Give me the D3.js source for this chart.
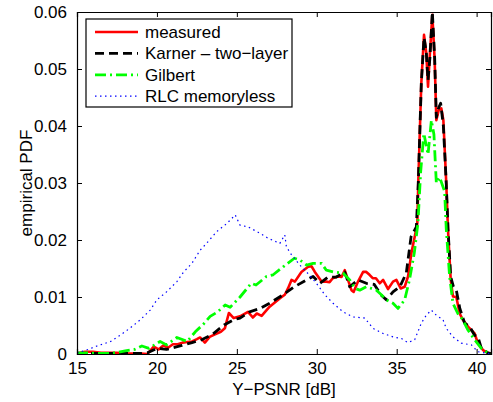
<!DOCTYPE html>
<html>
<head>
<meta charset="utf-8">
<script src="https://cdn.jsdelivr.net/npm/d3@7"></script>
<style>
  body { margin: 0; background: #fff; }
  svg { font-family: "Liberation Sans", Arial, sans-serif; }
</style>
</head>
<body>
<div id="chart"></div>
<script>
// empirical PDF of Y-PSNR, values as [dB, pdf]
const measured = [[15,0.0001],[15.5,0.0004],[16,0.0004],[16.5,0.0002],[17,0.0002],[17.5,0.0002],[18,0.0001],[18.5,0.0001],[19,0.0001],[19.4,0],[19.8,0.0013],[20.1,0.0008],[20.4,0.0015],[20.7,0.0011],[21.0,0.0017],[21.3,0.0017],[21.6,0.0020],[21.9,0.0021],[22.2,0.0022],[22.5,0.0026],[22.7,0.0029],[23.0,0.0020],[23.3,0.0030],[23.6,0.0034],[24.0,0.0039],[24.25,0.0045],[24.5,0.0072],[24.8,0.0063],[25.2,0.0066],[25.7,0.0074],[26.0,0.0064],[26.25,0.0071],[26.55,0.0067],[27.05,0.0083],[27.7,0.0098],[28.0,0.0104],[28.2,0.0115],[28.42,0.0130],[28.63,0.0127],[29.04,0.0144],[29.46,0.0153],[29.67,0.0154],[29.88,0.0144],[30.08,0.0136],[30.3,0.0127],[30.6,0.0127],[30.8,0.0126],[31.0,0.0133],[31.3,0.0136],[31.55,0.0135],[31.75,0.0147],[32.17,0.0112],[32.31,0.0109],[32.58,0.0127],[32.9,0.0144],[33.1,0.0144],[33.3,0.0139],[33.5,0.0133],[33.7,0.0133],[33.94,0.0124],[34.15,0.0130],[34.46,0.0114],[34.77,0.0127],[34.98,0.0130],[35.25,0.0115],[35.5,0.0118],[35.71,0.0136],[35.92,0.0177],[36.13,0.0206],[36.29,0.0229],[36.35,0.0300],[36.54,0.0475],[36.71,0.0560],[36.85,0.0528],[36.96,0.0469],[37.08,0.0528],[37.23,0.0595],[37.375,0.0516],[37.48,0.0410],[37.63,0.0428],[37.79,0.0431],[37.92,0.0410],[38.1,0.0300],[38.21,0.0218],[38.38,0.0130],[38.52,0.0101],[38.73,0.0100],[38.94,0.0071],[39.14,0.0060],[39.46,0.0048],[39.875,0.0036],[40.08,0.0019],[40.4,0.0007],[40.7,0.0002],[41,0]];

const karner = [[15,0.0001],[16,0.0001],[17,0.0001],[18,0.0001],[19,0.0001],[19.4,0.0002],[20,0.0010],[20.6,0.0008],[21.56,0.0015],[22.2,0.0020],[22.8,0.0025],[23.5,0.0035],[24.2,0.0051],[24.8,0.0060],[25.2,0.0063],[25.8,0.0074],[26.45,0.0080],[27.05,0.0089],[27.9,0.0104],[28.6,0.0118],[29.36,0.0130],[29.77,0.0136],[30.2,0.0124],[30.7,0.0135],[31.23,0.0135],[31.75,0.0144],[32.06,0.0118],[32.58,0.0130],[33.1,0.0124],[33.6,0.0122],[34.04,0.0103],[34.36,0.0095],[34.77,0.0109],[35.2,0.0118],[35.6,0.0142],[35.9,0.0206],[36.23,0.0223],[36.35,0.0300],[36.54,0.0475],[36.71,0.0555],[36.85,0.0530],[36.96,0.0480],[37.08,0.0520],[37.23,0.0600],[37.375,0.0520],[37.48,0.0415],[37.6,0.0430],[37.75,0.0440],[37.92,0.0400],[38.1,0.0300],[38.21,0.0220],[38.38,0.0135],[38.55,0.0118],[38.73,0.0112],[38.95,0.0080],[39.25,0.0054],[39.56,0.0048],[39.875,0.0033],[40.08,0.0030],[40.3,0.0010],[40.7,0.0002],[41,0]];

const gilbert = [[15,0.0002],[15.6,0.0002],[16.5,0.0001],[17,0.0001],[17.6,0.0003],[18.1,0.0006],[18.6,0.0008],[19.06,0.0014],[19.5,0.0010],[20.2,0.0022],[20.6,0.0016],[21.25,0.0029],[21.9,0.0022],[22.4,0.0039],[22.9,0.0052],[23.33,0.0066],[23.8,0.0074],[24.27,0.0086],[24.58,0.0082],[25.2,0.0100],[25.9,0.0124],[26.2,0.0121],[26.85,0.0136],[27.27,0.0139],[27.9,0.0153],[28.6,0.0168],[28.94,0.0165],[29.36,0.0156],[29.77,0.0159],[30.3,0.0159],[30.6,0.0147],[31.02,0.0144],[31.64,0.0142],[32.06,0.0130],[32.4,0.0115],[32.69,0.0112],[33.1,0.0118],[33.73,0.0112],[34.04,0.0104],[34.36,0.0095],[34.77,0.0089],[35.08,0.0080],[35.5,0.0095],[35.8,0.0130],[36.1,0.0177],[36.33,0.0230],[36.5,0.0320],[36.7,0.0387],[36.96,0.0350],[37.17,0.0410],[37.33,0.0385],[37.48,0.0300],[37.69,0.0310],[38.0,0.0285],[38.1,0.0220],[38.31,0.0136],[38.52,0.0089],[38.83,0.0071],[39.14,0.0060],[39.46,0.0042],[39.875,0.0025],[40.3,0.0010],[40.7,0.0002],[41,0]];

const rlc = [[15,0.0002],[15.6,0.0007],[16.25,0.0014],[17.1,0.0022],[17.7,0.0033],[18.3,0.0045],[18.96,0.0060],[19.58,0.0077],[20.0,0.0095],[20.6,0.0109],[21.25,0.0127],[21.67,0.0144],[22.19,0.0159],[22.7,0.0182],[23.1,0.0194],[23.75,0.0215],[24.375,0.0229],[24.9,0.0244],[25.2,0.0226],[25.7,0.0223],[26.44,0.0212],[26.96,0.0203],[27.69,0.0194],[28.0,0.0209],[28.1,0.0188],[28.42,0.0174],[28.94,0.0156],[29.36,0.0144],[29.98,0.0124],[30.5,0.0104],[31.02,0.0089],[31.64,0.0074],[32.27,0.0065],[33.0,0.0063],[33.52,0.0045],[34.15,0.0036],[34.77,0.0030],[35.3,0.0027],[35.7,0.0020],[36.125,0.0025],[36.54,0.0054],[36.85,0.0068],[37.17,0.0077],[37.48,0.0068],[37.9,0.0060],[38.1,0.0045],[38.52,0.0030],[39.04,0.0019],[39.67,0.0016],[40.08,0.0004],[40.5,0.0002],[41,0]];

const xTicks = [15, 20, 25, 30, 35, 40];
const yTicks = [0, 0.01, 0.02, 0.03, 0.04, 0.05, 0.06];

const series = [
    { name: 'measured', data: measured, color: '#ff0000', width: 2.6, dash: null },
    { name: 'Karner \u2013 two\u2212layer', data: karner, color: '#000000', width: 2.8, dash: '9,5' },
    { name: 'Gilbert', data: gilbert, color: '#00ff00', width: 2.8, dash: '11,4,2,4' },
    { name: 'RLC memoryless', data: rlc, color: '#0000ff', width: 1.2, dash: '1.5,3.5' }
];

function renderChart() {
    const W = 493, H = 402;
    const margin = { top: 12, right: 2, bottom: 48, left: 77 };
    const width = W - margin.left - margin.right;
    const height = H - margin.top - margin.bottom;

    const svg = d3.select('#chart').append('svg')
        .attr('width', W)
        .attr('height', H)
        .append('g')
        .attr('transform', `translate(${margin.left},${margin.top})`);

    const x = d3.scaleLinear().domain([15, 40.9]).range([0, width]);
    const y = d3.scaleLinear().domain([0, 0.06]).range([height, 0]);

    svg.append('defs').append('clipPath').attr('id', 'plot')
        .append('rect').attr('width', width).attr('height', height);

    const line = d3.line().x(d => x(d[0])).y(d => y(d[1]));

    const plot = svg.append('g').attr('clip-path', 'url(#plot)');
    series.forEach(s => {
        plot.append('path')
            .datum(s.data)
            .attr('d', line)
            .attr('fill', 'none')
            .attr('stroke', s.color)
            .attr('stroke-width', s.width)
            .attr('stroke-dasharray', s.dash)
            .attr('stroke-linejoin', 'round');
    });

    // MATLAB style axes: ticks pointing inwards on all four sides
    const tl = 5;
    const fontSize = '17px';
    const bottom = svg.append('g').attr('transform', `translate(0,${height})`)
        .call(d3.axisBottom(x).tickValues(xTicks).tickSize(-tl).tickPadding(8).tickFormat(d3.format('d')));
    const top = svg.append('g')
        .call(d3.axisTop(x).tickValues(xTicks).tickSize(-tl).tickFormat(''));
    const left = svg.append('g')
        .call(d3.axisLeft(y).tickValues(yTicks).tickSize(-tl).tickPadding(10)
            .tickFormat(d => d === 0 ? '0' : d3.format('.2f')(d)));
    const right = svg.append('g').attr('transform', `translate(${width},0)`)
        .call(d3.axisRight(y).tickValues(yTicks).tickSize(-tl).tickFormat(''));

    [bottom, top, left, right].forEach(g => {
        g.select('.domain').attr('stroke', '#000').attr('stroke-width', 1.2);
        g.selectAll('.tick line').attr('stroke', '#000');
        g.selectAll('text').attr('fill', '#000').style('font-size', fontSize);
    });

    svg.append('text')
        .attr('x', width / 2)
        .attr('y', height + 41)
        .attr('text-anchor', 'middle')
        .style('font-size', fontSize)
        .text('Y\u2212PSNR [dB]');

    svg.append('text')
        .attr('transform', `translate(${-45},${height / 2}) rotate(-90)`)
        .attr('text-anchor', 'middle')
        .style('font-size', fontSize)
        .text('empirical PDF');

    // legend
    const legend = svg.append('g').attr('transform', 'translate(9,7)');
    legend.append('rect')
        .attr('width', 206).attr('height', 88)
        .attr('fill', '#fff').attr('stroke', '#000').attr('stroke-width', 1.2);
    series.forEach((s, i) => {
        const ly = 13 + i * 21.4;
        legend.append('line')
            .attr('x1', 9).attr('x2', 52).attr('y1', ly).attr('y2', ly)
            .attr('stroke', s.color)
            .attr('stroke-width', s.width)
            .attr('stroke-dasharray', s.dash);
        legend.append('text')
            .attr('x', 59).attr('y', ly)
            .attr('dy', '0.35em')
            .style('font-size', fontSize)
            .text(s.name);
    });
}

renderChart();
</script>
</body>
</html>
